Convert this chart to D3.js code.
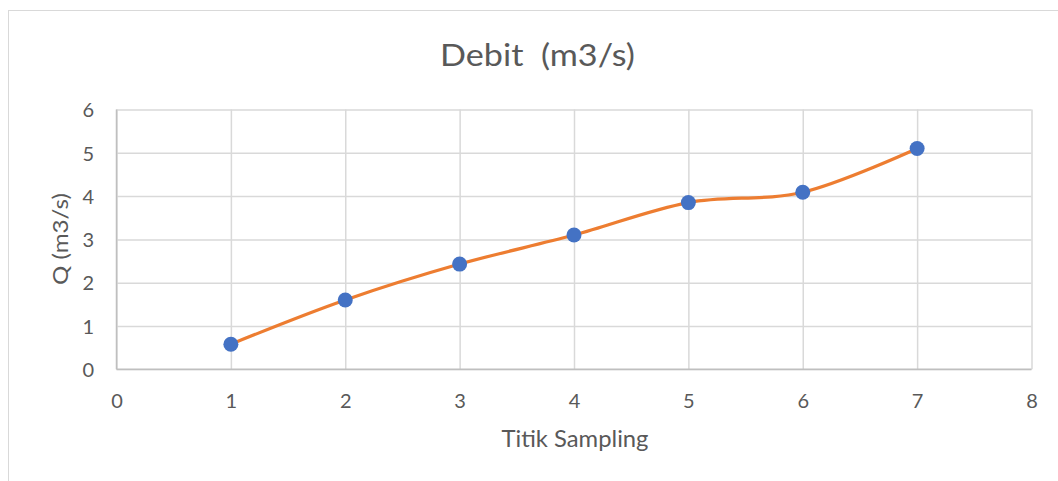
<!DOCTYPE html>
<html>
<head>
<meta charset="utf-8">
<script src="https://cdn.jsdelivr.net/npm/d3@7/dist/d3.min.js"></script>
<style>
html,body{margin:0;padding:0;background:#fff;}
svg{display:block;}
text{font-family:"Lato","Open Sans",sans-serif;fill:#595959;white-space:pre;}
</style>
</head>
<body>
<svg id="chart" width="1058" height="481"></svg>
<script>
const titleText = "Debit  (m3/s)";
const xTitle = "Titik Sampling";
const yTitle = "Q (m3/s)";
const xValues = [1, 2, 3, 4, 5, 6, 7];
const yValues = [0.58, 1.60, 2.43, 3.10, 3.85, 4.09, 5.10];
const xTicks = [0, 1, 2, 3, 4, 5, 6, 7, 8];
const yTicks = [0, 1, 2, 3, 4, 5, 6];

const svg = d3.select("#chart");
const m = {left: 116.5, right: 1031.5, top: 109.5, bottom: 369.3};

// chart border
svg.append("rect").attr("x", 8.5).attr("y", 10.5).attr("width", 1100).attr("height", 500)
  .attr("fill", "none").attr("stroke", "#d9d9d9").attr("stroke-width", 1);

const x = d3.scaleLinear().domain([0, 8]).range([m.left, m.right]);
const y = d3.scaleLinear().domain([0, 6]).range([m.bottom, m.top]);

// gridlines
const gx = svg.append("g").attr("transform", `translate(0,${m.bottom})`)
  .call(d3.axisBottom(x).tickValues(xTicks).tickSize(-(m.bottom - m.top)).tickFormat(""));
gx.select(".domain").remove();
gx.selectAll("line").attr("stroke", "#d9d9d9").attr("stroke-width", 1.5);

const gy = svg.append("g").attr("transform", `translate(${m.left},0)`)
  .call(d3.axisLeft(y).tickValues(yTicks).tickSize(-(m.right - m.left)).tickFormat(""));
gy.select(".domain").remove();
gy.selectAll("line").attr("stroke", "#d9d9d9").attr("stroke-width", 1.5);

// axis lines
svg.append("line").attr("x1", x(0)).attr("x2", x(8)).attr("y1", y(0)).attr("y2", y(0))
  .attr("stroke", "#bfbfbf").attr("stroke-width", 1.5);
svg.append("line").attr("x1", x(0)).attr("x2", x(0)).attr("y1", y(0)).attr("y2", y(6))
  .attr("stroke", "#bfbfbf").attr("stroke-width", 1.5);

// tick labels
const xl = svg.append("g").attr("transform", `translate(0,${m.bottom})`)
  .call(d3.axisBottom(x).tickValues(xTicks).tickSize(0).tickPadding(0).tickFormat(d3.format("d")));
xl.select(".domain").remove();
xl.selectAll("text").attr("y", 39).attr("dy", 0).attr("font-size", 20).attr("fill", "#595959")
  .style("font-family", "Lato, 'Open Sans', sans-serif");

const yl = svg.append("g").attr("transform", `translate(94,0)`)
  .call(d3.axisLeft(y).tickValues(yTicks).tickSize(0).tickPadding(0).tickFormat(d3.format("d")));
yl.select(".domain").remove();
yl.selectAll("text").attr("x", 0).attr("dy", "0.36em").attr("font-size", 20).attr("fill", "#595959")
  .style("font-family", "Lato, 'Open Sans', sans-serif");

// line
const line = d3.line().x(d => x(d[0])).y(d => y(d[1])).curve(d3.curveCardinal.tension(0));
const pts = xValues.map((v, i) => [v, yValues[i]]);
svg.append("path").datum(pts).attr("d", line).attr("fill", "none")
  .attr("stroke", "#ED7D31").attr("stroke-width", 3.2).attr("stroke-linecap", "round");

svg.selectAll("circle.pt").data(pts).enter().append("circle").attr("class", "pt")
  .attr("cx", d => x(d[0])).attr("cy", d => y(d[1])).attr("r", 7.5).attr("fill", "#4472C4");

// titles
svg.append("text").attr("x", 537.5).attr("y", 66).attr("text-anchor", "middle")
  .attr("font-size", 31).attr("textLength", 195).attr("lengthAdjust", "spacingAndGlyphs")
  .text(titleText);
svg.append("text").attr("x", 575).attr("y", 446.5).attr("text-anchor", "middle")
  .attr("font-size", 23).attr("textLength", 147).attr("lengthAdjust", "spacingAndGlyphs")
  .text(xTitle);
svg.append("text").attr("transform", `translate(68,239) rotate(-90)`)
  .attr("text-anchor", "middle").attr("font-size", 22).attr("textLength", 92)
  .attr("lengthAdjust", "spacingAndGlyphs").text(yTitle);
</script>
</body>
</html>
